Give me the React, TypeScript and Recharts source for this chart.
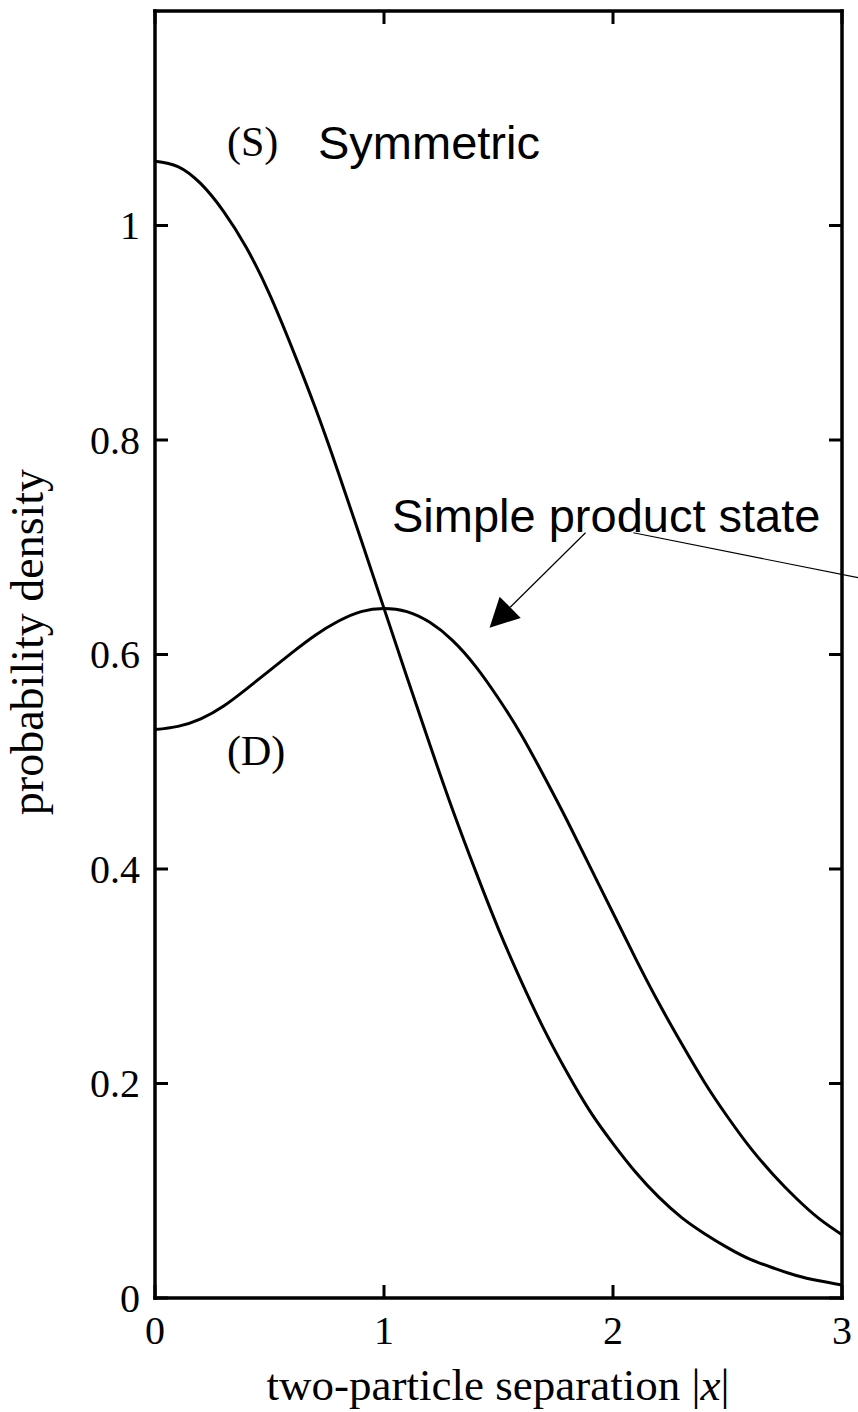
import React from 'react';
import { LineChart, Line, XAxis, YAxis, ReferenceLine } from 'recharts';

// two-particle separation |x|
const separation = [
  0, 0.1, 0.2, 0.3, 0.4, 0.5, 0.6, 0.7, 0.8, 0.9, 1.0, 1.1, 1.2, 1.3, 1.4, 1.5,
  1.6, 1.7, 1.8, 1.9, 2.0, 2.1, 2.2, 2.3, 2.4, 2.5, 2.6, 2.7, 2.8, 2.9, 3.0,
];
// (S) symmetric
const symmetric = [
  1.06, 1.055, 1.039, 1.013, 0.979, 0.936, 0.885, 0.83, 0.77, 0.707, 0.643, 0.579,
  0.516, 0.455, 0.398, 0.344, 0.295, 0.25, 0.21, 0.174, 0.144, 0.117, 0.094, 0.075,
  0.06, 0.047, 0.036, 0.028, 0.021, 0.016, 0.012,
];
// (D) simple product state
const productState = [
  0.53, 0.533, 0.54, 0.552, 0.568, 0.585, 0.602, 0.618, 0.631, 0.64, 0.643, 0.64,
  0.63, 0.613, 0.589, 0.559, 0.525, 0.486, 0.445, 0.402, 0.359, 0.316, 0.275, 0.237,
  0.201, 0.169, 0.14, 0.115, 0.093, 0.074, 0.059,
];
const xTicks = [0, 1, 2, 3];
const yTicks = [0, 0.2, 0.4, 0.6, 0.8, 1];

const data = separation.map((x, i) => ({ x, s: symmetric[i], d: productState[i] }));

const SERIF = '"Liberation Serif", "DejaVu Serif", serif';
const SANS = '"Liberation Sans", Arial, sans-serif';
const frame = { stroke: '#000', strokeWidth: 3.5, strokeLinecap: 'square' as const };
const tickMark = { stroke: '#000', strokeWidth: 3 };
const noLabel = () => '';

// ticks point into the plot, so tickSize is negative
function LeftTick({ x, y, payload }: any) {
  return (
    <text x={x} y={y} dy="0.34em" textAnchor="end" fontFamily={SERIF} fontSize={40} fill="#000">
      {payload.value}
    </text>
  );
}

function BottomTick({ x, y, payload }: any) {
  return (
    <text x={x} y={Number(y) + 46} textAnchor="middle" fontFamily={SERIF} fontSize={40} fill="#000">
      {payload.value}
    </text>
  );
}

function Arrow(props: any) {
  const { x1, y1, x2, y2 } = props;
  const ang = Math.atan2(y2 - y1, x2 - x1);
  const len = 29;
  const half = 15;
  const bx = x2 - len * Math.cos(ang);
  const by = y2 - len * Math.sin(ang);
  const px = -Math.sin(ang) * half;
  const py = Math.cos(ang) * half;
  return (
    <g>
      <line x1={x1} y1={y1} x2={bx} y2={by} stroke="#000" strokeWidth={1.2} />
      <polygon points={`${x2},${y2} ${bx + px},${by + py} ${bx - px},${by - py}`} fill="#000" />
    </g>
  );
}

export default function App() {
  return (
    <div style={{ position: 'absolute', left: 0, top: 0, width: 858, height: 1412, background: '#fff' }}>
      <LineChart width={858} height={1412} data={data} margin={{ top: 10, right: 15, bottom: 0, left: 0 }}>
        <XAxis
          dataKey="x"
          type="number"
          domain={[0, 3]}
          ticks={xTicks}
          interval={0}
          allowDataOverflow
          height={114}
          tickSize={-13}
          tickMargin={13}
          tickLine={tickMark}
          axisLine={frame}
          tick={<BottomTick />}
        />
        <XAxis
          xAxisId="top"
          orientation="top"
          dataKey="x"
          type="number"
          domain={[0, 3]}
          ticks={xTicks}
          interval={0}
          allowDataOverflow
          height={1}
          tickSize={-13}
          tickMargin={0}
          tickLine={tickMark}
          axisLine={frame}
          tickFormatter={noLabel}
        />
        <YAxis
          type="number"
          domain={[0, 1.2]}
          ticks={yTicks}
          interval={0}
          allowDataOverflow
          width={155}
          tickSize={-13}
          tickMargin={28}
          tickLine={tickMark}
          axisLine={frame}
          tick={<LeftTick />}
        />
        <YAxis
          yAxisId="right"
          orientation="right"
          type="number"
          domain={[0, 1.2]}
          ticks={yTicks}
          interval={0}
          allowDataOverflow
          width={1}
          tickSize={-13}
          tickMargin={0}
          tickLine={tickMark}
          axisLine={frame}
          tickFormatter={noLabel}
        />
        <Line type="natural" dataKey="s" stroke="#000" strokeWidth={3} dot={false} isAnimationActive={false} />
        <Line type="natural" dataKey="d" stroke="#000" strokeWidth={3} dot={false} isAnimationActive={false} />
        <ReferenceLine
          segment={[{ x: 1.88, y: 0.7135 }, { x: 1.461, y: 0.625 }]}
          ifOverflow="visible"
          shape={<Arrow />}
        />
        <ReferenceLine
          segment={[{ x: 2.089, y: 0.7135 }, { x: 3.07, y: 0.6716 }]}
          ifOverflow="visible"
          stroke="#000"
          strokeWidth={1.2}
        />
      </LineChart>
      <svg
        width={858}
        height={1412}
        style={{ position: 'absolute', left: 0, top: 0, pointerEvents: 'none' }}
      >
        <text x={227} y={156} fontFamily={SERIF} fontSize={42} fill="#000">(S)</text>
        <text x={318} y={159} fontFamily={SANS} fontSize={47} fill="#000">Symmetric</text>
        <text x={227} y={765} fontFamily={SERIF} fontSize={42} fill="#000">(D)</text>
        <text x={392} y={532} fontFamily={SANS} fontSize={47} fill="#000">Simple product state</text>
        <text
          x={43}
          y={642}
          transform="rotate(-90, 43, 642)"
          textAnchor="middle"
          fontFamily={SERIF}
          fontSize={46}
          fill="#000"
        >
          probability density
        </text>
        <text x={498} y={1400} textAnchor="middle" fontFamily={SERIF} fontSize={45} fill="#000">
          two-particle separation |<tspan fontStyle="italic">x</tspan>|
        </text>
      </svg>
    </div>
  );
}
